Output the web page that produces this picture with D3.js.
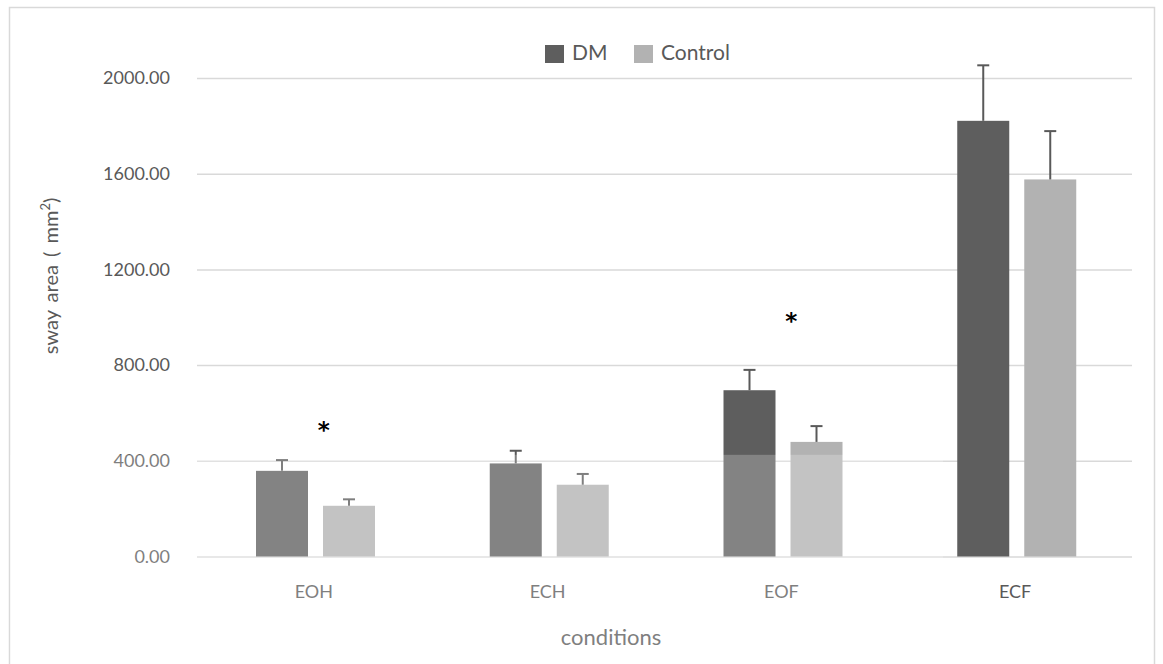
<!DOCTYPE html>
<html>
<head>
<meta charset="utf-8">
<script src="https://cdn.jsdelivr.net/npm/d3@7"></script>
<style>
  body { margin: 0; background: #fff; }
  text { font-family: Lato, "Noto Sans", sans-serif; }
</style>
</head>
<body>
<div id="chart"></div>
<script>
// data
const conditions = ["EOH", "ECH", "EOF", "ECF"];
const seriesNames = ["DM", "Control"];
const dmMean = [358, 389, 695, 1821];
const dmSD = [45, 53, 85, 232];
const controlMean = [212, 300, 479, 1576];
const controlSD = [27, 45, 66, 202];
const yTicks = [0, 400, 800, 1200, 1600, 2000];
// significance markers: condition and height (in data units)
const starConditions = ["EOH", "EOF"];
const starValues = [537, 993];

const W = 1163, H = 664;
const colors = { DM: "#5e5e5e", Control: "#b2b2b2" };

const svg = d3.select("#chart").append("svg")
    .attr("width", W)
    .attr("height", H);

// outer frame
svg.append("rect")
    .attr("x", 9.5).attr("y", 7.5)
    .attr("width", 1145).attr("height", 680)
    .attr("fill", "none")
    .attr("stroke", "#d9d9d9")
    .attr("stroke-width", 1.5);

// 1. Scales
const x0 = d3.scaleBand().domain(conditions).range([197, 1132]).padding(0);
const x1 = d3.scaleBand().domain(seriesNames).range([59, 59 + 119]).paddingInner(15 / 67).paddingOuter(0);
const y = d3.scaleLinear().domain([0, 2000]).range([556.5, 78]);

// 2. Gridlines + y tick labels
const yAxis = svg.append("g")
    .attr("transform", "translate(197,0)")
    .call(d3.axisLeft(y).tickValues(yTicks).tickSize(-(1132 - 197)).tickPadding(27)
        .tickFormat(d => d3.format(".2f")(d)));
yAxis.select(".domain").remove();
yAxis.selectAll(".tick line").attr("stroke", "#d9d9d9").attr("stroke-width", 1.5);
yAxis.selectAll(".tick text")
    .attr("fill", "#595959")
    .style("font-size", "18px")
    .style("font-family", "Lato, sans-serif");

// 3. Bars
const rows = conditions.map((c, i) => ({
    cond: c,
    values: [
        { key: "DM", mean: dmMean[i], sd: dmSD[i] },
        { key: "Control", mean: controlMean[i], sd: controlSD[i] }
    ]
}));

const groups = svg.append("g").selectAll("g")
    .data(rows)
    .join("g")
    .attr("transform", d => `translate(${x0(d.cond)},0)`);

groups.selectAll("rect")
    .data(d => d.values)
    .join("rect")
    .attr("x", d => x1(d.key))
    .attr("width", x1.bandwidth())
    .attr("y", d => y(d.mean))
    .attr("height", d => y(0) - y(d.mean))
    .attr("fill", d => colors[d.key]);

// 4. Error bars (upper only)
const err = groups.selectAll("g.err")
    .data(d => d.values)
    .join("g")
    .attr("class", "err")
    .attr("stroke", "#595959")
    .attr("stroke-width", 2);
err.append("line")
    .attr("x1", d => x1(d.key) + x1.bandwidth() / 2)
    .attr("x2", d => x1(d.key) + x1.bandwidth() / 2)
    .attr("y1", d => y(d.mean))
    .attr("y2", d => y(d.mean + d.sd));
err.append("line")
    .attr("x1", d => x1(d.key) + x1.bandwidth() / 2 - 6)
    .attr("x2", d => x1(d.key) + x1.bandwidth() / 2 + 6)
    .attr("y1", d => y(d.mean + d.sd))
    .attr("y2", d => y(d.mean + d.sd));

// 5. Significance stars
svg.append("g").selectAll("text")
    .data(starConditions.map((c, i) => ({ cond: c, v: starValues[i] })))
    .join("text")
    .attr("x", d => x0(d.cond) + x0.bandwidth() / 2 + 10)
    .attr("y", d => y(d.v) + 10)
    .attr("text-anchor", "middle")
    .attr("fill", "#000")
    .style("font-family", "'DejaVu Sans', sans-serif")
    .style("font-size", "23px")
    .style("font-weight", "bold")
    .text("*");

// 6. Category labels
svg.append("g").selectAll("text")
    .data(conditions)
    .join("text")
    .attr("x", d => x0(d) + x0.bandwidth() / 2)
    .attr("y", 598)
    .attr("text-anchor", "middle")
    .attr("fill", "#595959")
    .style("font-size", "18px")
    .text(d => d);

// 7. Axis titles
svg.append("text")
    .attr("x", 611).attr("y", 645)
    .attr("text-anchor", "middle")
    .attr("fill", "#595959")
    .style("font-size", "22px")
    .text("conditions");

const yt = svg.append("text")
    .attr("transform", "translate(58,276) rotate(-90)")
    .attr("text-anchor", "middle")
    .attr("fill", "#595959")
    .style("font-size", "20px")
    .style("word-spacing", "3px");
yt.append("tspan").text("sway area ( mm");
yt.append("tspan").attr("dy", -8).style("font-size", "13px").text("2");
yt.append("tspan").attr("dy", 8).text(")");

// 8. Legend
const legend = svg.append("g").selectAll("g")
    .data(seriesNames)
    .join("g")
    .attr("transform", (d, i) => `translate(${[545, 634][i]},45)`);
legend.append("rect")
    .attr("width", 19).attr("height", 18)
    .attr("fill", d => colors[d]);
legend.append("text")
    .attr("x", 27).attr("y", 15)
    .attr("fill", "#595959")
    .style("font-size", "21px")
    .text(d => d);

// 9. faded watermark band over the lower left of the plot
svg.append("rect")
    .attr("x", 10).attr("y", y(425))
    .attr("width", 943 - 10).attr("height", H - y(425))
    .attr("fill", "#fff")
    .attr("opacity", 0.23);
</script>
</body>
</html>
